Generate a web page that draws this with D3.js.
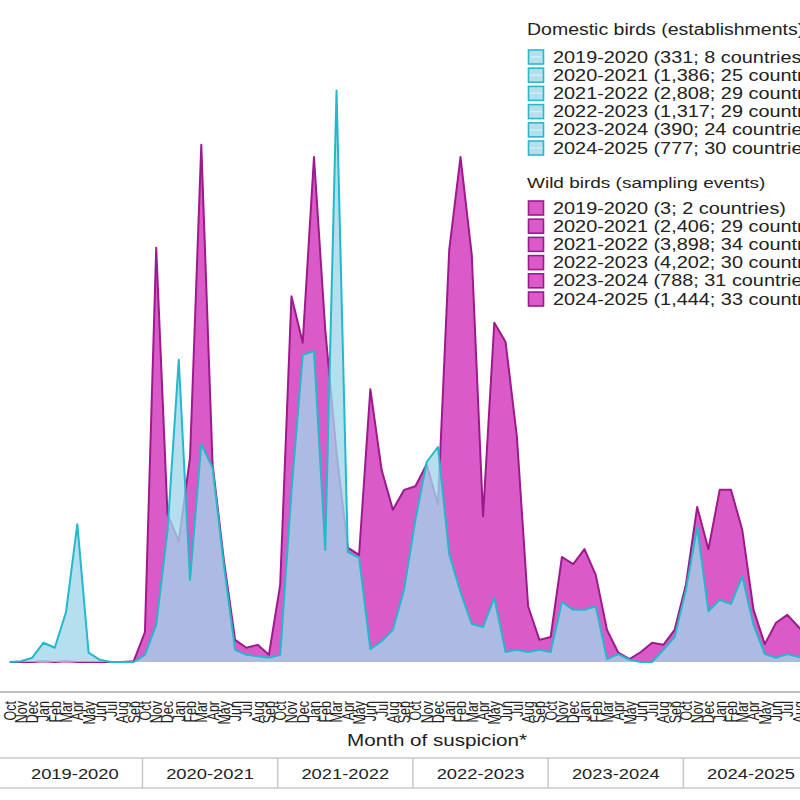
<!DOCTYPE html>
<html>
<head>
<meta charset="utf-8">
<script src="https://cdn.jsdelivr.net/npm/d3@7"></script>
<style>
  body { margin: 0; background: #fff; }
  svg { display: block; font-family: "Liberation Sans", Arial, sans-serif; }
</style>
</head>
<body>
<svg id="chart" width="800" height="800"></svg>
<script>
// ---------- data ----------
const months = ["Oct","Nov","Dec","Jan","Feb","Mar","Apr","May","Jun","Jul","Aug","Sep"];
const seasons = ["2019-2020","2020-2021","2021-2022","2022-2023","2023-2024","2024-2025"];

// Domestic birds: establishments per month of suspicion (Oct..Sep)
const domestic_2019_2020 = [0, 1, 6, 27, 20, 70, 193, 13, 3, 0, 0, 0];
const domestic_2020_2021 = [10, 52, 183, 423, 115, 305, 272, 136, 17, 10, 8, 6];
const domestic_2021_2022 = [10, 238, 430, 435, 157, 800, 154, 146, 18, 29, 45, 102];
const domestic_2022_2023 = [199, 280, 301, 151, 98, 53, 49, 90, 14, 17, 14, 17];
const domestic_2023_2024 = [14, 84, 73, 73, 78, 4, 11, 3, 0, 0, 17, 35];
const domestic_2024_2025 = [101, 189, 71, 87, 81, 120, 52, 11, 6, 11, 7, 6];

// Wild birds: sampling events per month of suspicion (Oct..Sep)
const wild_2019_2020 = [0, 0, 0, 1, 0, 1, 0, 0, 0, 0, 0, 1];
const wild_2020_2021 = [42, 580, 207, 169, 286, 724, 277, 143, 31, 20, 24, 10];
const wild_2021_2022 = [108, 512, 447, 707, 465, 293, 160, 150, 382, 269, 213, 241];
const wild_2022_2023 = [246, 277, 220, 577, 707, 570, 204, 475, 448, 316, 78, 31];
const wild_2023_2024 = [35, 147, 137, 158, 122, 45, 13, 4, 14, 27, 24, 45];
const wild_2024_2025 = [108, 217, 158, 241, 241, 185, 73, 25, 55, 66, 49, 31];

const domesticLegend = [
  "2019-2020 (331; 8 countries)",
  "2020-2021 (1,386; 25 countries)",
  "2021-2022 (2,808; 29 countries)",
  "2022-2023 (1,317; 29 countries)",
  "2023-2024 (390; 24 countries)",
  "2024-2025 (777; 30 countries)"
];
const wildLegend = [
  "2019-2020 (3; 2 countries)",
  "2020-2021 (2,406; 29 countries)",
  "2021-2022 (3,898; 34 countries)",
  "2022-2023 (4,202; 30 countries)",
  "2023-2024 (788; 31 countries)",
  "2024-2025 (1,444; 33 countries)"
];
const domesticTitle = "Domestic birds (establishments)";
const wildTitle = "Wild birds (sampling events)";
const xTitle = "Month of suspicion*";

// ---------- build ----------
const domesticSeries = [domestic_2019_2020, domestic_2020_2021, domestic_2021_2022,
                        domestic_2022_2023, domestic_2023_2024, domestic_2024_2025];
const wildSeries = [wild_2019_2020, wild_2020_2021, wild_2021_2022,
                    wild_2022_2023, wild_2023_2024, wild_2024_2025];
const domAll = domesticSeries.flat();
const wildAll = wildSeries.flat();
const idx = d3.range(seasons.length * months.length);
const monthLabel = i => months[i % 12];

const S = 1.25;          // horizontal text stretch of the original picture
const TEXT = "#222";

const svg = d3.select("#chart");
const step = 11.27;
const x = d3.scalePoint().domain(idx).range([9.7, 9.7 + step * (idx.length - 1)]);
const baseY = 662;
const y = d3.scaleLinear().domain([0, 800]).range([baseY, baseY - 800 / 1.4]);

const area = d3.area().x((d, i) => x(i)).y0(y(0)).y1(d => y(d));
const line = d3.line().x((d, i) => x(i)).y(d => y(d));

// wild (drawn first)
svg.append("path").attr("d", area(wildAll)).attr("fill", "#da5bc8");
svg.append("path").attr("d", line(wildAll)).attr("fill", "none")
  .attr("stroke", "#9d1a8d").attr("stroke-width", 2).attr("stroke-linejoin", "round");
// domestic (on top, translucent)
svg.append("path").attr("d", area(domAll)).attr("fill", "rgb(160,214,234)").attr("fill-opacity", 0.78);
svg.append("path").attr("d", line(domAll)).attr("fill", "none")
  .attr("stroke", "#22b9cb").attr("stroke-width", 2).attr("stroke-linejoin", "round");

// ---------- x axis ----------
const axisY = 692;
svg.append("line").attr("x1", 0).attr("x2", 800).attr("y1", axisY).attr("y2", axisY)
  .attr("stroke", "#a8a8a8").attr("stroke-width", 1.5);

const axis = d3.axisBottom(x).tickSize(0).tickFormat(monthLabel);
const gAxis = svg.append("g").attr("transform", `translate(0,${axisY})`).call(axis);
gAxis.select(".domain").remove();
gAxis.selectAll("text")
  .attr("x", 0).attr("y", 0).attr("dy", "0.35em")
  .attr("transform", `translate(0,9) scale(${S},1) rotate(-90)`)
  .attr("text-anchor", "end")
  .attr("font-size", 12.5)
  .attr("font-family", "'Liberation Sans', Arial, sans-serif")
  .attr("fill", TEXT);

function sText(g, tx, ty, str, size, anchor) {
  return g.append("text")
    .attr("transform", `translate(${tx},${ty}) scale(${S},1)`)
    .attr("dy", "0.35em")
    .attr("font-size", size)
    .attr("text-anchor", anchor)
    .attr("fill", TEXT)
    .text(str);
}

sText(svg, 437, 740, xTitle, 16.5, "middle");

// season table
const tTop = 758, tBot = 788;
[tTop, tBot].forEach(yy => svg.append("line").attr("x1", 0).attr("x2", 800)
  .attr("y1", yy).attr("y2", yy).attr("stroke", "#c8c8c8").attr("stroke-width", 1.5));
const bounds = d3.range(seasons.length + 1).map(k => 9.7 + step * 12 * k - 2.5);
bounds.slice(1, -1).forEach(bx => svg.append("line").attr("x1", bx).attr("x2", bx)
  .attr("y1", tTop).attr("y2", tBot).attr("stroke", "#c8c8c8").attr("stroke-width", 1.5));
seasons.forEach((s, k) => {
  const cx = (Math.max(bounds[k], -5) + bounds[k + 1]) / 2;
  sText(svg, cx, 774, s, 14.7, "middle");
});

// ---------- legend ----------
const lg = svg.append("g");
const rowH = 18.2;
sText(lg, 527, 30, domesticTitle, 15.6, "start");
domesticLegend.forEach((t, k) => {
  const cy = 57 + rowH * k;
  lg.append("rect").attr("x", 528.5).attr("y", cy - 7).attr("width", 15).attr("height", 14)
    .attr("fill", "#b4e0ee").attr("stroke", "#2bb7c9").attr("stroke-width", 1.6);
  lg.append("line").attr("x1", 530).attr("x2", 542).attr("y1", cy).attr("y2", cy)
    .attr("stroke", "#d9f0f7").attr("stroke-width", 1.2);
  sText(lg, 553, cy, t, 15.9, "start");
});
sText(lg, 527, 183, wildTitle, 15.2, "start");
wildLegend.forEach((t, k) => {
  const cy = 208 + rowH * k;
  lg.append("rect").attr("x", 528.5).attr("y", cy - 7).attr("width", 15).attr("height", 14)
    .attr("fill", "#da5bc8").attr("stroke", "#9d1a8d").attr("stroke-width", 1.6);
  sText(lg, 553, cy, t, 15.9, "start");
});
</script>
</body>
</html>
